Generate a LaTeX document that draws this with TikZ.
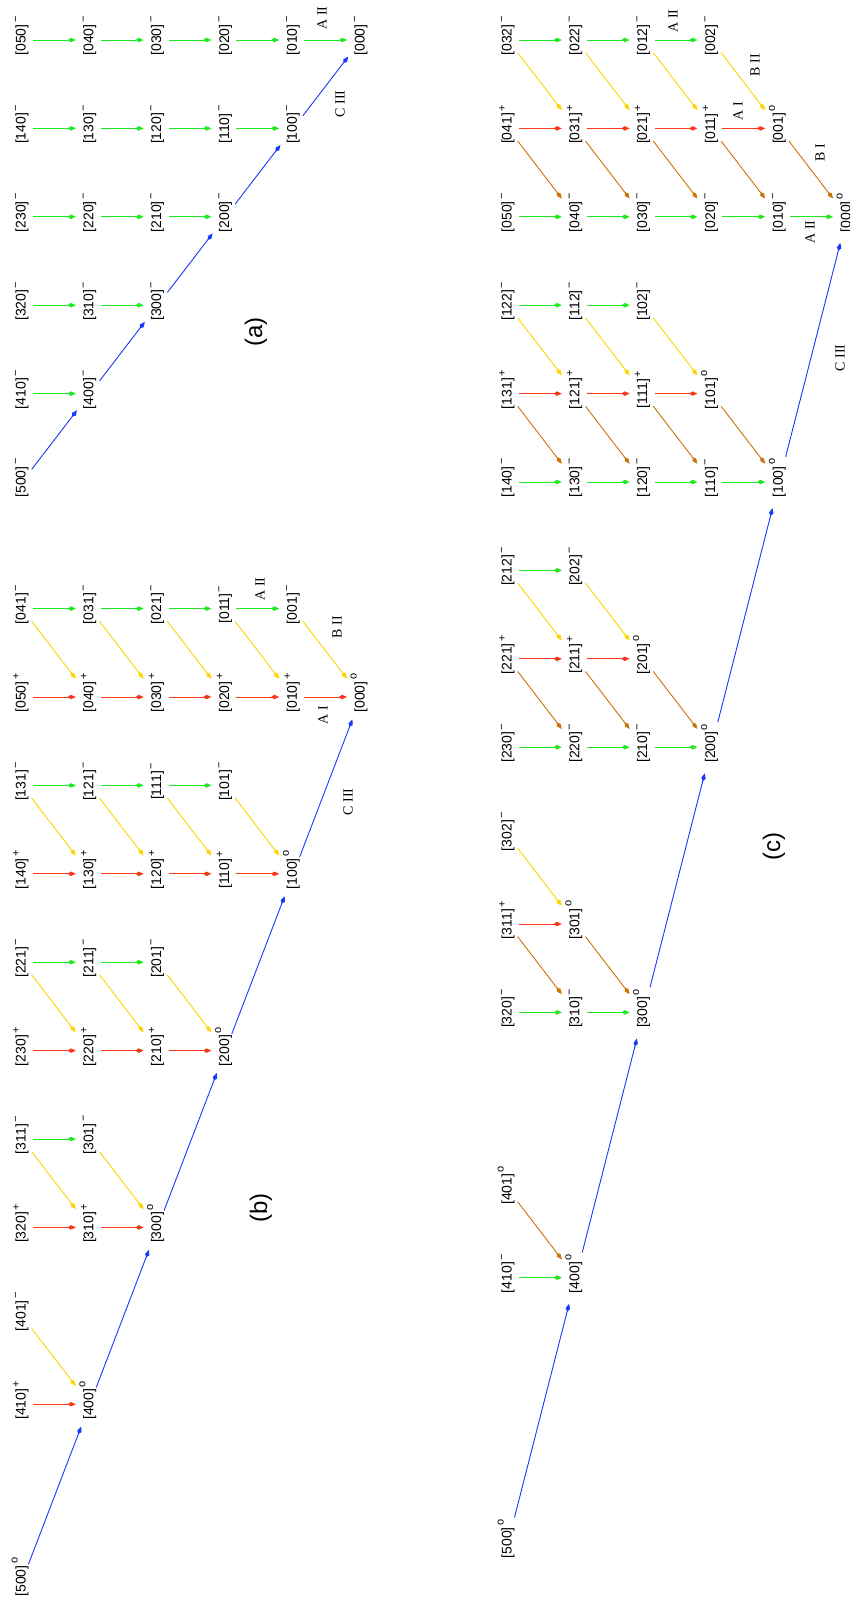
\documentclass[tikz,border=0pt]{standalone}
\usepackage{fontspec}
\setmainfont{Liberation Sans}
\newfontfamily\serifLab{Liberation Serif}
\usetikzlibrary{arrows.meta}
\definecolor{cgreen}{RGB}{30,235,30}
\definecolor{cred}{RGB}{255,55,25}
\definecolor{cyellow}{RGB}{255,212,0}
\definecolor{cbrown}{RGB}{205,115,10}
\definecolor{cblue}{RGB}{25,55,255}
\newcommand\mysup[2]{\rlap{\smash{\raisebox{#1}{\fontsize{11}{11}\selectfont\hspace{1.5pt}#2}}}}
\newcommand\supm{\mysup{6.5pt}{−}}
\newcommand\supp{\mysup{6pt}{+}}
\newcommand\supo{\mysup{8pt}{o}}
\begin{document}
\begin{tikzpicture}[x=1pt,y=-1pt,
 lab/.style={rotate=90,inner sep=0pt,font=\fontsize{14}{14}\selectfont},
 tag/.style={rotate=90,inner sep=0pt,font=\serifLab\fontsize{14}{14}\selectfont},
 panel/.style={rotate=90,inner sep=0pt,font=\fontsize{24}{24}\selectfont},
 arr/.style={line width=0.9pt,-{Kite[length=8pt,width=4.5pt,inset=3pt]}},
 hor/.style={arr,shorten <=11pt,shorten >=14pt},
 dia/.style={arr,shorten <=16pt,shorten >=23pt},
 bluea/.style={arr,cblue,shorten <=16pt,shorten >=21pt},
 blueb/.style={arr,cblue,shorten <=18pt,shorten >=24pt},
 bluec/.style={arr,cblue,shorten <=26pt,shorten >=27pt}]
\fill[white] (0,0) rectangle (850,1604);
\useasboundingbox (0,0) rectangle (850,1604);
% ---------------- panel (a)
\foreach \a in {0,...,5}{
 \pgfmathtruncatemacro\bmax{5-\a}
 \foreach \b in {0,...,\bmax}{
  \pgfmathsetmacro\px{22+67.8*(5-\a-\b)}
  \pgfmathsetmacro\py{40+88.4*\a}
  \node[lab] (a\a\b0) at (\px,\py) {[\a\b0]\supm};
 }
}
\foreach \a in {0,...,4}{
 \pgfmathtruncatemacro\bmax{5-\a}
 \foreach \b in {1,...,\bmax}{
  \pgfmathtruncatemacro\bb{\b-1}
  \draw[hor,cgreen] (a\a\b0.center) -- (a\a\bb0.center);
 }
}
\foreach \a in {1,...,5}{
 \pgfmathtruncatemacro\aa{\a-1}
 \draw[bluea] (a\a00.center) -- (a\aa00.center);
}
\node[tag] (ta1) at (322,18) {A II};
\node[tag] (ta2) at (340,104) {C III};
\node[panel] (pa) at (256,332) {(a)};
% ---------------- panel (b)
\foreach \a in {0,...,5}{
 \foreach \c in {0,1}{
  \pgfmathtruncatemacro\bmax{5-\a-\c}
  \ifnum\bmax<0 \else
  \foreach \b in {0,...,\bmax}{
   \pgfmathsetmacro\px{22+67.8*(5-\a-\b-\c)}
   \pgfmathsetmacro\py{697+176.8*\a-88.4*\c}
   \ifnum\c=1 \def\s{\supm}\else\ifnum\b=0 \def\s{\supo}\else\def\s{\supp}\fi\fi
   \node[lab] (b\a\b\c) at (\px,\py) {[\a\b\c]\s};
  }
  \fi
 }
}
\foreach \a in {0,...,4}{
 \pgfmathtruncatemacro\bmax{5-\a}
 \foreach \b in {1,...,\bmax}{
  \pgfmathtruncatemacro\bb{\b-1}
  \draw[hor,cred] (b\a\b0.center) -- (b\a\bb0.center);
 }
 \pgfmathtruncatemacro\bmaxx{4-\a}
 \foreach \b in {0,...,\bmaxx}{
  \draw[dia,cyellow] (b\a\b1.center) -- (b\a\b0.center);
  \ifnum\b>0
   \pgfmathtruncatemacro\bb{\b-1}
   \draw[hor,cgreen] (b\a\b1.center) -- (b\a\bb1.center);
  \fi
 }
}
\foreach \a in {1,...,5}{
 \pgfmathtruncatemacro\aa{\a-1}
 \draw[blueb] (b\a00.center) -- (b\aa00.center);
}
\node[tag] (tb1) at (260,589) {A II};
\node[tag] (tb2) at (337,627) {B II};
\node[tag] (tb3) at (323,715) {A I};
\node[tag] (tb4) at (348,802) {C III};
\node[panel] (pb) at (261,1208) {(b)};
% ---------------- panel (c)
\foreach \a in {0,...,5}{
 \foreach \c in {0,1,2}{
  \pgfmathtruncatemacro\bmax{5-\a-\c}
  \ifnum\bmax<0 \else
  \foreach \b in {0,...,\bmax}{
   \pgfmathsetmacro\px{508+67.8*(5-\a-\b-\c)}
   \pgfmathsetmacro\py{40+88.4*(3*\a+2-\c)}
   \ifnum\c=2 \def\s{\supm}\else
    \ifnum\b=0 \def\s{\supo}\else
     \ifnum\c=1 \def\s{\supp}\else\def\s{\supm}\fi
    \fi
   \fi
   \node[lab] (c\a\b\c) at (\px,\py) {[\a\b\c]\s};
  }
  \fi
 }
}
\foreach \a in {0,...,4}{
 \pgfmathtruncatemacro\bmax{5-\a}
 \foreach \b in {1,...,\bmax}{
  \pgfmathtruncatemacro\bb{\b-1}
  \draw[hor,cgreen] (c\a\b0.center) -- (c\a\bb0.center);
 }
 \pgfmathtruncatemacro\bmaxx{4-\a}
 \foreach \b in {0,...,\bmaxx}{
  \draw[dia,cbrown] (c\a\b1.center) -- (c\a\b0.center);
  \ifnum\b>0
   \pgfmathtruncatemacro\bb{\b-1}
   \draw[hor,cred] (c\a\b1.center) -- (c\a\bb1.center);
  \fi
 }
 \ifnum\a<4
 \pgfmathtruncatemacro\bmaxy{3-\a}
 \foreach \b in {0,...,\bmaxy}{
  \draw[dia,cyellow] (c\a\b2.center) -- (c\a\b1.center);
  \ifnum\b>0
   \pgfmathtruncatemacro\bb{\b-1}
   \draw[hor,cgreen] (c\a\b2.center) -- (c\a\bb2.center);
  \fi
 }
 \fi
}
\foreach \a in {1,...,5}{
 \pgfmathtruncatemacro\aa{\a-1}
 \draw[bluec] (c\a00.center) -- (c\aa00.center);
}
\node[tag] (tc1) at (673,21) {A II};
\node[tag] (tc2) at (755,65) {B II};
\node[tag] (tc3) at (738,111) {A I};
\node[tag] (tc4) at (820,153) {B I};
\node[tag] (tc5) at (810,232) {A II};
\node[tag] (tc6) at (840,358) {C III};
\node[panel] (pc) at (774,846) {(c)};
\end{tikzpicture}
\end{document}
